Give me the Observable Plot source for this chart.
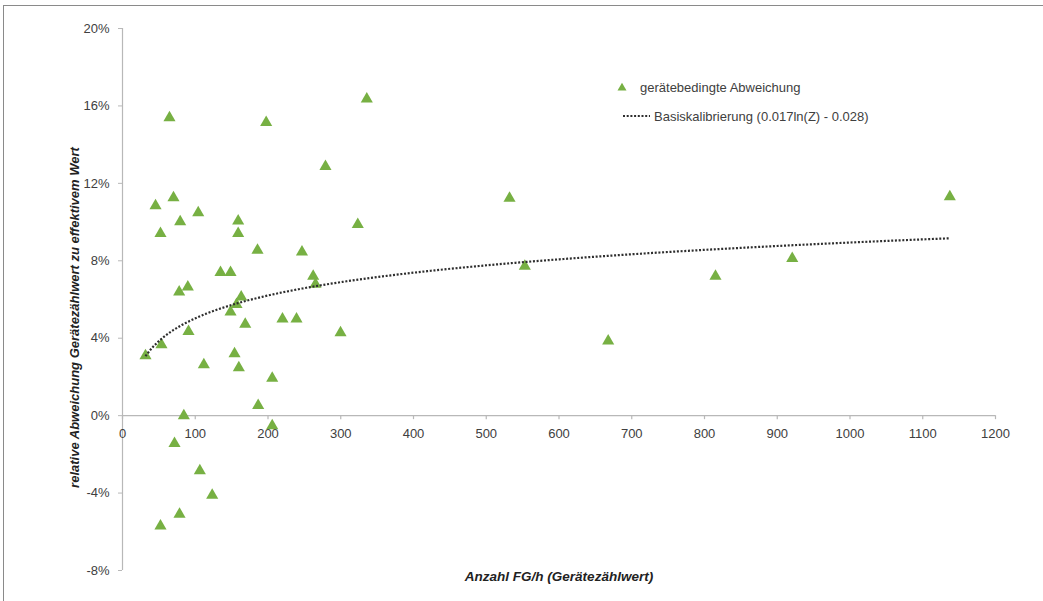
<!DOCTYPE html>
<html>
<head>
<meta charset="utf-8">
<script src="https://cdn.jsdelivr.net/npm/d3@7"></script>
<script src="https://cdn.jsdelivr.net/npm/@observablehq/plot@0.6"></script>
<style>
  html, body { margin: 0; padding: 0; background: #fff; }
  #wrap { position: relative; width: 1043px; height: 601px; overflow: hidden; font-family: "Liberation Sans", Arial, sans-serif; }
  #frame { position: absolute; left: 3px; top: 5px; right: -2px; bottom: -2px; border-top: 1.5px solid #8a8a8a; border-left: 1.5px solid #8a8a8a; }
  #chart { position: absolute; left: 0; top: 0; }
  #legend { position: absolute; left: 612px; top: 76px; font-size: 13px; color: #404040; }
  #legend .row { display: flex; align-items: center; height: 22px; margin-bottom: 7px; }
  #legend svg { margin-right: 4px; }
</style>
</head>
<body>
<div id="wrap">
  <div id="frame"></div>
  <div id="chart"></div>
  <div id="legend"></div>
</div>
<script>
// ---- data ----
const countPerHour = [31.6, 53.6, 45.4, 52.2, 64.6, 70.1, 79.3, 77.9, 89.8, 90.7,
  84.3, 71.5, 104.1, 111.8, 106.3, 123.3, 78.4, 52.2, 134.7, 148.5,
  148.5, 156.7, 163.2, 168.7, 154.0, 159.9, 159.0, 159.0, 185.6, 197.5,
  186.5, 205.8, 205.8, 219.9, 239.2, 246.7, 262.1, 265.3, 279.0, 299.7,
  323.4, 335.8, 532.0, 553.0, 667.6, 815.1, 920.6, 1137.2];
const deviationPct = [3.1, 3.66, 10.84, 9.41, 15.39, 11.26, 10.02, 6.39, 6.65, 4.35,
  0.0, -1.44, 10.48, 2.63, -2.85, -4.11, -5.09, -5.70, 7.39, 7.39,
  5.35, 5.74, 6.13, 4.72, 3.20, 2.47, 10.05, 9.41, 8.55, 15.15,
  0.52, 1.93, -0.52, 4.99, 4.99, 8.46, 7.20, 6.79, 12.87, 4.28,
  9.88, 16.36, 11.23, 7.72, 3.85, 7.20, 8.12, 11.31];
// trend line "Basiskalibrierung (0.017ln(Z) - 0.028)"
const trendCoefA = 0.017;
const trendCoefB = -0.028;
const xTicks = [0, 100, 200, 300, 400, 500, 600, 700, 800, 900, 1000, 1100, 1200];
const yTicks = [-8, -4, 0, 4, 8, 12, 16, 20];
const xLabel = "Anzahl FG/h (Gerätezählwert)";
const yLabel = "relative Abweichung Gerätezählwert zu effektivem Wert";
const seriesPoints = "gerätebedingte Abweichung";
const seriesTrend = "Basiskalibrierung (0.017ln(Z) - 0.028)";

const points = countPerHour.map((x, i) => ({x, y: deviationPct[i]}));
const xMin = d3.min(countPerHour), xMax = d3.max(countPerHour);
const trend = d3.range(0, 201).map(k => {
  const x = xMin + (xMax - xMin) * k / 200;
  return {x, y: (trendCoefA * Math.log(x) + trendCoefB) * 100};
});

const green = "#77b043";
const axisGray = "#b8b8b8";
const textGray = "#404040";

const chart = Plot.plot({
  width: 1043,
  height: 601,
  marginLeft: 122,
  marginRight: 48,
  marginTop: 28,
  marginBottom: 31,
  style: {fontFamily: "'Liberation Sans', Arial, sans-serif", fontSize: "13px", background: "transparent"},
  x: {domain: [0, 1200], axis: null},
  y: {domain: [-8, 20], axis: null},
  marks: [
    Plot.ruleX([0], {stroke: axisGray, strokeWidth: 1.2}),
    Plot.ruleY([0], {stroke: axisGray, strokeWidth: 1.2}),
    Plot.axisY({ticks: yTicks, tickFormat: d => d + "%", tickSize: 4, tickPadding: 9,
      stroke: axisGray, fill: textGray, label: null, anchor: "left", fontSize: 13}),
    Plot.ruleX(xTicks, {x: d => d, y1: 0, y2: 0, insetBottom: -4, stroke: axisGray, strokeWidth: 1.2}),
    Plot.text(xTicks, {x: d => d, y: 0, dy: 18, text: d => String(d), fill: textGray, fontSize: 13}),
    Plot.dot(points, {x: "x", y: "y", symbol: "triangle", r: 4.5, fill: green, stroke: "none"}),
    Plot.line(trend, {x: "x", y: "y", stroke: "#2e2e2e", strokeWidth: 2.2, strokeDasharray: "2,1.7", strokeLinecap: "butt"}),
    Plot.text([xLabel], {frameAnchor: "bottom", dy: 10, text: d => d, fontWeight: "bold", fontStyle: "italic", fontSize: 13.5, fill: "#222"}),
    Plot.text([yLabel], {frameAnchor: "left", dx: -48, dy: 18, rotate: -90, textAnchor: "middle", text: d => d, fontWeight: "bold", fontStyle: "italic", fontSize: 13, fill: "#222"})
  ]
});
document.getElementById("chart").appendChild(chart);

// legend
const legend = document.getElementById("legend");
const sym = d3.symbol(d3.symbolTriangle, Math.PI * 4.5 * 4.5 * 0.55)();
legend.innerHTML = `
  <div class="row"><svg width="24" height="14"><path d="${sym}" transform="translate(10,8)" fill="${green}"/></svg><span>${seriesPoints}</span></div>
  <div class="row"><svg width="38" height="14"><line x1="11" x2="38" y1="7" y2="7" stroke="#2e2e2e" stroke-width="2.2" stroke-dasharray="2,1.7"/></svg><span>${seriesTrend}</span></div>`;
</script>
</body>
</html>
